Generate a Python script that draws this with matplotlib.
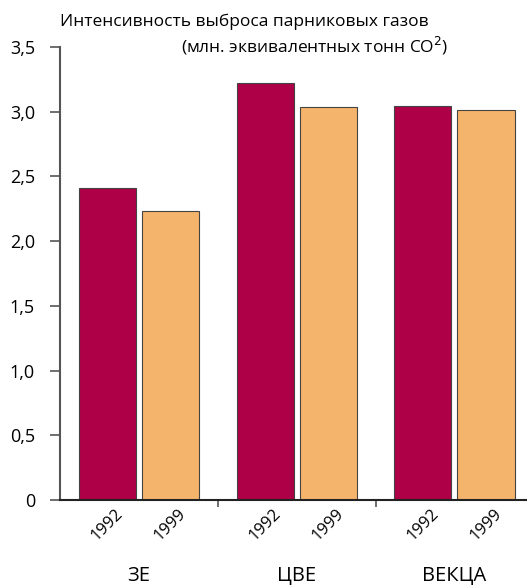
import numpy as np
import matplotlib.pyplot as plt
from matplotlib.ticker import FuncFormatter

plt.rcParams['font.family'] = ['Open Sans', 'DejaVu Sans']

# Данные
regions = ['ЗЕ', 'ЦВЕ', 'ВЕКЦА']
years = ['1992', '1999']
emissions_1992 = [2.41, 3.22, 3.045]
emissions_1999 = [2.23, 3.035, 3.01]

color_1992 = '#AD0046'
color_1999 = '#F5B46B'

fig = plt.figure(figsize=(5.27, 5.85), dpi=100)
ax = fig.add_axes([0.1139, 0.1453, 0.8861, 0.7744])

x = np.arange(len(regions))
width = 0.362
ax.bar(x - 0.2, emissions_1992, width, color=color_1992, edgecolor='#444444', linewidth=0.8)
ax.bar(x + 0.2, emissions_1999, width, color=color_1999, edgecolor='#444444', linewidth=0.8)

ax.set_xlim(-0.5, 2.46)
ax.set_ylim(0, 3.5)

# Ось Y
ax.set_yticks(np.arange(0, 3.51, 0.5))
ax.yaxis.set_major_formatter(FuncFormatter(lambda v, p: '0' if v == 0 else f'{v:.1f}'.replace('.', ',')))
ax.tick_params(axis='y', length=7, width=1.2, color='#555555', labelsize=13, pad=11)

# Подписи годов под столбцами
pos = np.concatenate([x - 0.2, x + 0.2])
labels = [years[0]] * len(regions) + [years[1]] * len(regions)
ax.set_xticks(pos)
ax.set_xticklabels(labels, rotation=45, fontsize=12)
ax.tick_params(axis='x', which='major', length=0, pad=4)

# Разделители групп
ax.set_xticks([0.5, 1.5], minor=True)
ax.tick_params(axis='x', which='minor', length=5, width=1.2, color='#555555')

for i, r in enumerate(regions):
    ax.text(i, -0.168, r, transform=ax.get_xaxis_transform(), ha='center', va='center', fontsize=14.5)

for s in ['top', 'right']:
    ax.spines[s].set_visible(False)
ax.spines['left'].set_color('#555555')
ax.spines['left'].set_linewidth(1.5)
ax.spines['bottom'].set_color('#222222')
ax.spines['bottom'].set_linewidth(1.5)

fig.text(0.114, 0.962, 'Интенсивность выброса парниковых газов', ha='left', va='center', fontsize=12.5)
fig.text(0.851, 0.922, '(млн. эквивалентных тонн CO$^2$)', ha='right', va='center', fontsize=12.5)

fig.savefig('out.png', dpi=100)
